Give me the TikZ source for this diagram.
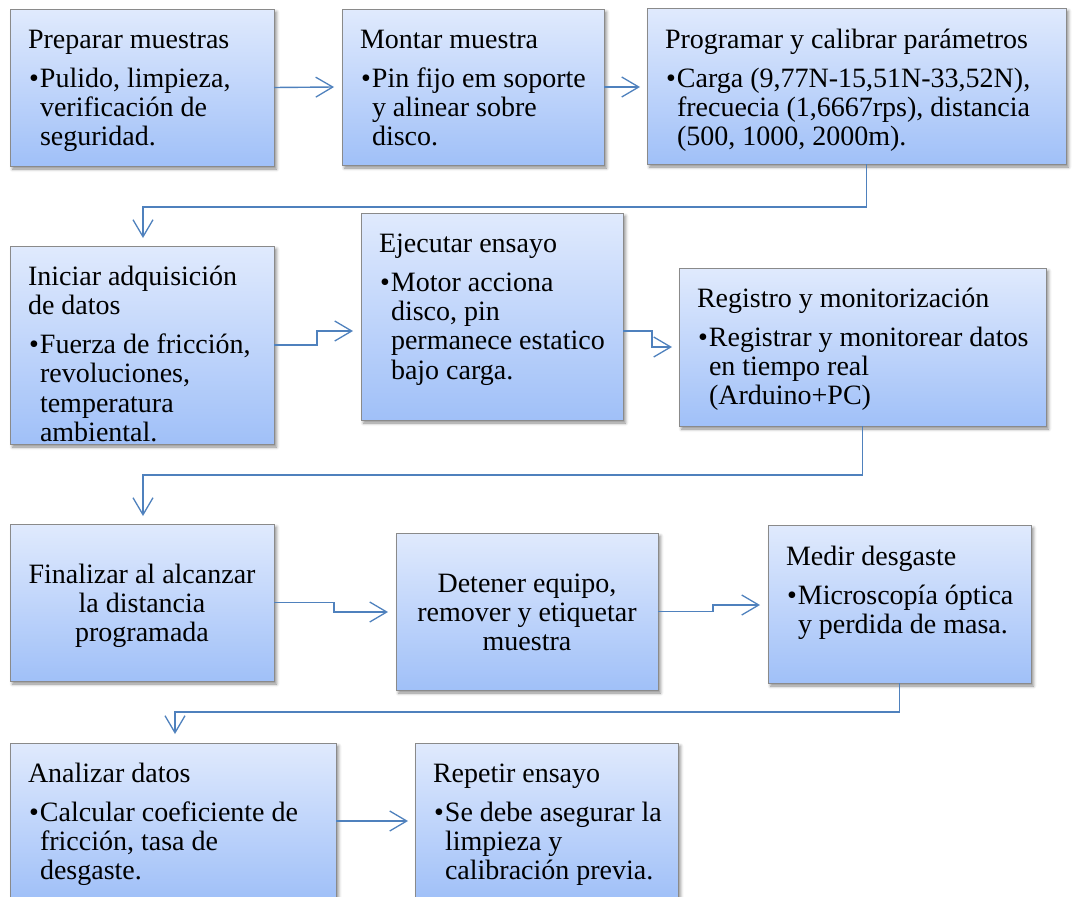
\documentclass[tikz,border=0pt]{standalone}
\usepackage{fontspec}
\setmainfont{Liberation Serif}
\newfontfamily\stepfont{Liberation Serif}
\usetikzlibrary{arrows.meta,calc,shadows.blur}

\definecolor{boxtop}{RGB}{224,234,253}
\definecolor{boxbot}{RGB}{160,192,248}
\definecolor{boxedge}{RGB}{138,138,138}
\definecolor{flow}{RGB}{79,129,189}

% box body: width, height, first baseline below the top edge, content
\newcommand\stepbody[4]{%
  \begin{minipage}[c][#2pt][t]{#1pt}%
  \stepfont\fontsize{28}{29.3}\selectfont
  \parskip=0pt\parindent=0pt
  \hyphenpenalty=10000\exhyphenpenalty=10000
  \vspace*{\dimexpr#3pt-24pt\relax}%
  #4%
  \end{minipage}}
% heading line(s) of a box
\newcommand\steptitle[1]{\par\leftskip=18pt\relax\noindent\rule{0pt}{24pt}#1\par}
% bulleted paragraph with hanging indent
\newcommand\stepitem[1]{\vspace{10pt}\leftskip=18pt\relax
  \hangindent=12pt\hangafter=1\noindent\makebox[12pt][l]{\hspace{1pt}•}#1\par}
% centred text only
\newcommand\stepcentre[1]{\par\centering\rule{0pt}{24pt}#1\par}

\begin{document}
\begin{tikzpicture}[x=1pt,y=-1pt,
  stepbox/.style={draw=boxedge, line width=0.8pt, top color=boxtop,
    bottom color=boxbot, inner sep=0pt, outer sep=0pt, anchor=north west,
    blur shadow={shadow xshift=2.5pt, shadow yshift=-3pt,
      shadow blur radius=3pt, shadow opacity=45}},
  conn/.style={draw=flow, line width=1.4pt,
    -{Straight Barb[length=17pt,width=20pt,line width=1.3pt]}}]

\useasboundingbox (0,0) rectangle (1077,897);
\clip (0,0) rectangle (1077,897);

% ---- row 1
\node[stepbox] (b1) at (10,9) {\stepbody{264}{157}{39}{%
  \steptitle{Preparar muestras}%
  \stepitem{Pulido, limpieza,\\ verificación de\\ seguridad.}}};
\node[stepbox] (b2) at (342,9) {\stepbody{262}{156}{39}{%
  \steptitle{Montar muestra}%
  \stepitem{Pin fijo em soporte\\ y alinear sobre\\ disco.}}};
\node[stepbox] (b3) at (647,8) {\stepbody{419}{156}{40}{%
  \steptitle{Programar y calibrar parámetros}%
  \stepitem{Carga (9,77N-15,51N-33,52N),\\ frecuecia (1,6667rps), distancia\\ (500, 1000, 2000m).}}};

% ---- row 2
\node[stepbox] (b4) at (10,246) {\stepbody{264}{198}{39}{%
  \steptitle{Iniciar adquisición\\ de datos}%
  \stepitem{Fuerza de fricción,\\ revoluciones,\\ temperatura\\ ambiental.}}};
\node[stepbox] (b5) at (361,213) {\stepbody{262}{207}{39}{%
  \steptitle{Ejecutar ensayo}%
  \stepitem{Motor acciona\\ disco, pin\\ permanece estatico\\ bajo carga.}}};
\node[stepbox] (b6) at (679,268) {\stepbody{367}{158}{39}{%
  \steptitle{Registro y monitorización}%
  \stepitem{Registrar y monitorear datos\\ en tiempo real\\ (Arduino+PC)}}};

% ---- row 3
\node[stepbox] (b7) at (10,524) {\stepbody{264}{157}{59}{%
  \stepcentre{Finalizar al alcanzar\\ la distancia\\ programada}}};
\node[stepbox] (b8) at (396,533) {\stepbody{262}{157}{59}{%
  \stepcentre{Detener equipo,\\ remover y etiquetar\\ muestra}}};
\node[stepbox] (b9) at (768,525) {\stepbody{263}{158}{40}{%
  \steptitle{Medir desgaste}%
  \stepitem{Microscopía óptica\\ y perdida de masa.}}};

% ---- row 4
\node[stepbox] (b10) at (10,743) {\stepbody{326}{156}{39}{%
  \steptitle{Analizar datos}%
  \stepitem{Calcular coeficiente de\\ fricción, tasa de\\ desgaste.}}};
\node[stepbox] (b11) at (415,743) {\stepbody{263}{156}{39}{%
  \steptitle{Repetir ensayo}%
  \stepitem{Se debe asegurar la\\ limpieza y\\ calibración previa.}}};

% ---- connectors
\draw[conn] (b1.east) -- ($(b2.west)+(-8,0)$);
\draw[conn] (b2.east) -- ($(b2.east -| b3.west)+(-7,0)$);
\draw[conn] ($(b3.south)+(10,0)$) -- ++(0,43) -| ($(b4.north)+(1,-8)$);
\draw[conn] (b4.east) -- ++(43,0) |- ($(b5.west)+(-8,14.5)$);
\draw[conn] ($(b5.east)+(0,14.5)$) -- ++(29,0) |- ($(b6.west)+(-7,0)$);
\draw[conn] (b6.south) -- ++(0,49) -| ($(b7.north)+(1,-8)$);
\draw[conn] (b7.east) -- ++(60,0) |- ($(b8.west)+(-8,0.5)$);
\draw[conn] (b8.east) -- ++(55,0) |- ($(b9.west)+(-8,1)$);
\draw[conn] (b9.south) -- ++(0,29) -| ($(b10.north)+(2,-9)$);
\draw[conn] (b10.east) -- ($(b11.west)+(-7,0)$);
\end{tikzpicture}
\end{document}
